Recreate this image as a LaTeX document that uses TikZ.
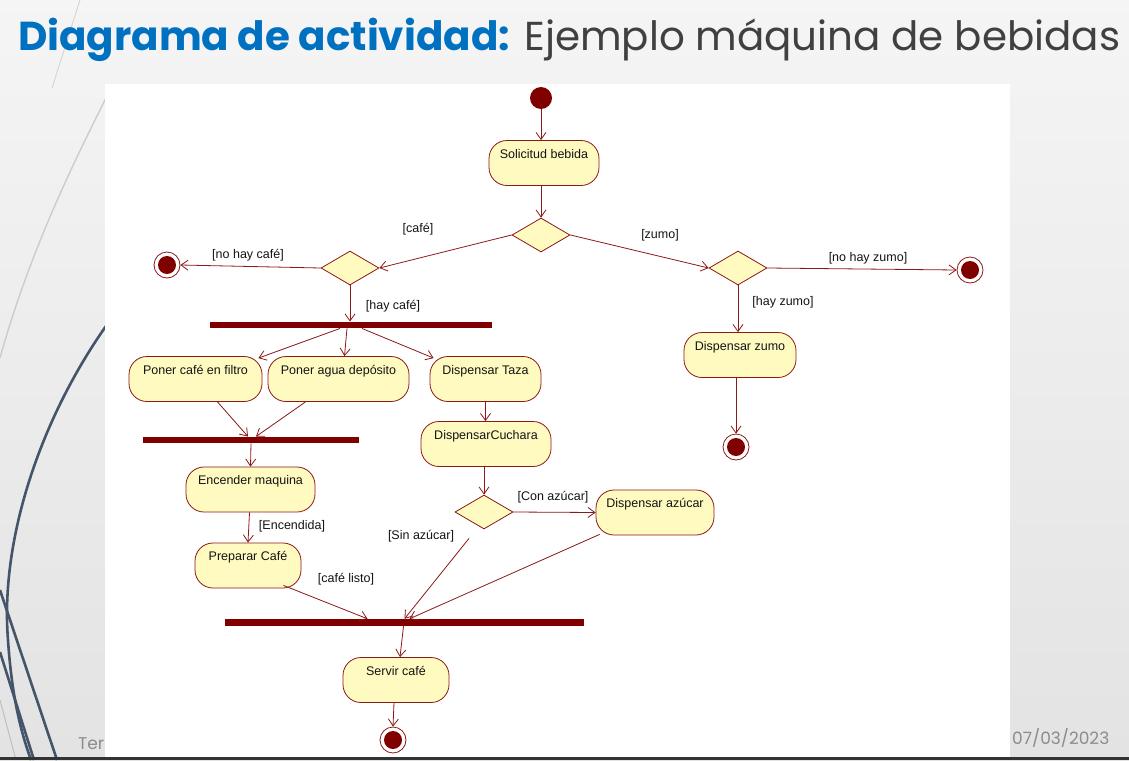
\documentclass[tikz,border=0pt]{standalone}
\usepackage{fontspec}
\usetikzlibrary{shapes.geometric,arrows.meta,calc}
\newfontfamily\titlefont{Poppins}
\newfontfamily\dfont{Liberation Sans}
\definecolor{tblue}{RGB}{0,112,192}
\definecolor{tgray}{RGB}{64,64,64}
\definecolor{foot}{RGB}{140,140,140}
\definecolor{slate}{RGB}{68,84,106}
\definecolor{dline}{RGB}{140,24,24}
\definecolor{dbar}{RGB}{128,0,0}
\definecolor{boxfill}{RGB}{255,250,192}
\begin{document}
\begin{tikzpicture}[x=1pt,y=-1pt,
  act/.style={draw=dline, fill=boxfill, rounded corners=18pt, line width=0.8pt,
    font=\dfont\fontsize{12.5}{14}\selectfont, text=black!92, text height=13pt, text depth=23pt,
    inner sep=4.5pt, inner xsep=0pt, minimum height=45pt},
  dec/.style={diamond, draw=dline, fill=boxfill, line width=0.8pt, inner sep=0pt,
    minimum width=58pt, minimum height=34pt},
  bar/.style={rectangle, fill=dbar, inner sep=0pt, minimum height=6.5pt},
  startn/.style={circle, fill=dbar, inner sep=0pt, minimum size=22pt},
  endn/.style={circle, draw=dline, fill=white, line width=0.8pt, inner sep=0pt, minimum size=26pt,
    path picture={\fill[dbar] (path picture bounding box.center) circle (9pt);}},
  flow/.style={draw=dline, line width=0.8pt, -{Straight Barb[length=7pt,width=10pt]}},
  guard/.style={font=\dfont\fontsize{12.5}{14}\selectfont, text=black!92, inner sep=0pt},
  deco/.style={draw=slate, line width=2.6pt},
]
\useasboundingbox (0,0) rectangle (1129,760);
% slide background
\shade[top color=black!4, bottom color=black!11] (0,0) rectangle (1129,760);
\draw[black!18, line width=0.8pt] (80,0) -- (52,88);
\draw[black!20, line width=1.4pt] (106,98) .. controls (75,160) and (30,250) .. (0,358);
\draw[deco] (106,326) .. controls (40,420) and (0,540) .. (8,640) .. controls (12,700) and (22,735) .. (31,760);
\draw[deco] (0,590) -- (57,760);
\draw[deco] (0,652) -- (34,760);
\draw[black!25, line width=1pt] (0,700) -- (16,760);
\node[anchor=base west, inner sep=0pt, font=\titlefont\fontsize{17}{20}\selectfont, text=foot] (ter) at (78,749) {Ter};
\node[anchor=base west, inner sep=0pt, font=\titlefont\fontsize{17}{20}\selectfont, text=foot] (date) at (1012,744) {07/03/2023};
% title
\node[anchor=base west, inner sep=0pt, font=\titlefont\fontsize{44}{50}\selectfont] (title) at (18,51)
  {\resizebox{1102pt}{!}{\textcolor{tblue}{\bfseries Diagrama de actividad:} \textcolor{tgray}{Ejemplo máquina de bebidas}}};
% panel
\fill[white] (105,84) rectangle (1010,757);
\fill[black!80] (0,757) rectangle (1129,760);

% nodes
\node[startn] (start) at (541,98) {};
\node[act, minimum width=110pt] (solic) at (544,163) {Solicitud bebida};
\node[dec] (d1) at (541,235) {};
\node[dec] (d2) at (350,268) {};
\node[dec] (d3) at (738,268) {};
\node[endn] (end1) at (167,265) {};
\node[endn] (end2) at (970,270) {};
\node[act, minimum width=112pt] (zumo) at (740,355) {Dispensar zumo};
\node[endn] (end3) at (736,447) {};
\node[bar, minimum width=282pt] (bar1) at (351,325) {};
\node[act, minimum width=133pt] (cafe) at (195.5,379) {Poner café en filtro};
\node[act, minimum width=141pt] (agua) at (338.5,379) {Poner agua depósito};
\node[act, minimum width=111pt] (taza) at (485.5,379) {Dispensar Taza};
\node[bar, minimum width=216pt] (bar2) at (251,440) {};
\node[act, minimum width=130pt] (cuchara) at (486,444) {DispensarCuchara};
\node[act, minimum width=129pt] (encender) at (250.5,489.5) {Encender maquina};
\node[dec] (d4) at (484,512) {};
\node[act, minimum width=118pt] (azucar) at (655,512.5) {Dispensar azúcar};
\node[act, minimum width=106pt] (preparar) at (248,565.5) {Preparar Café};
\node[bar, minimum width=359pt, minimum height=7pt] (bar3) at (404.5,622.5) {};
\node[act, minimum width=106pt] (servir) at (396,680) {Servir café};
\node[endn] (end4) at (393,740) {};

% guards
\node[guard] (gcafe) at (418,229) {[café]};
\node[guard] (gnocafe) at (248,255) {[no hay café]};
\node[guard] (gzumo) at (660,235) {[zumo]};
\node[guard] (gnozumo) at (868,258) {[no hay zumo]};
\node[guard] (ghayzumo) at (783,302) {[hay zumo]};
\node[guard] (ghaycafe) at (393,306) {[hay café]};
\node[guard] (gencendida) at (292,526) {[Encendida]};
\node[guard] (glisto) at (346,579) {[café listo]};
\node[guard] (gcon) at (553,497) {[Con azúcar]};
\node[guard] (gsin) at (421,536) {[Sin azúcar]};

% connectors
\draw[flow] (start) -- (start |- solic.north);
\draw[flow] (solic.south -| d1) -- (d1.north);
\draw[flow] (d1.west) -- (d2.east);
\draw[flow] (d2.west) -- (end1.east);
\draw[flow] (d1.east) -- (d3.west);
\draw[flow] (d3.east) -- (end2.west);
\draw[flow] (d3.south) -- (d3.south |- zumo.north);
\draw[flow] (zumo.south -| end3) -- (end3.north);
\draw[flow] (d2.south) -- (d2.south |- bar1.north);
\draw[flow] ([xshift=-11pt]bar1.south) -- ([xshift=-4pt,yshift=-2pt]cafe.north east);
\draw[flow] ([xshift=-4pt]bar1.south) -- ([xshift=6pt]agua.north);
\draw[flow] ([xshift=11pt]bar1.south) -- ([xshift=4pt,yshift=-2pt]taza.north west);
\draw[flow] ([xshift=22pt]cafe.south) -- ([xshift=-3pt]bar2.north);
\draw[flow] ([xshift=-33pt]agua.south) -- ([xshift=5pt]bar2.north);
\draw[flow] (bar2.south) -- (encender.north);
\draw[flow] ([xshift=-1pt]encender.south) -- (preparar.north);
\draw[flow] ([xshift=-18pt,yshift=3pt]preparar.south east) -- ([xshift=-37pt]bar3.north);
\draw[flow] (taza.south) -- (taza.south |- cuchara.north);
\draw[flow] ([xshift=-2pt]cuchara.south) -- (d4.north);
\draw[flow] (d4.east) -- (azucar.west);
\draw[flow] ([xshift=-15pt,yshift=-9pt]d4.south) -- (bar3.north);
\draw[flow] ([xshift=4pt,yshift=1pt]azucar.south west) -- ([xshift=5pt]bar3.north);
\draw[flow] ([xshift=-1pt]bar3.south) -- ([xshift=4pt]servir.north);
\draw[flow] ([xshift=-2pt]servir.south) -- (end4.north);
\end{tikzpicture}
\end{document}
